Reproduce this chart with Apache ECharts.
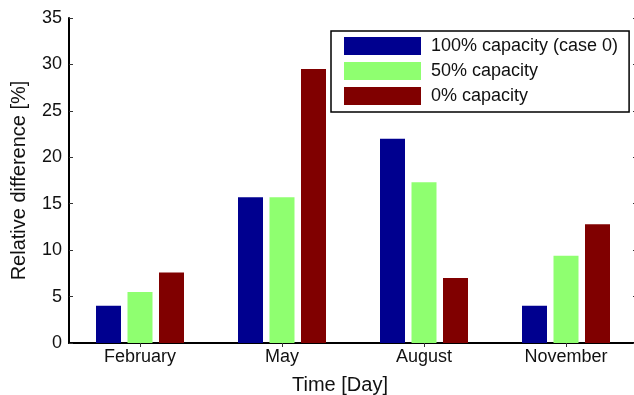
<!DOCTYPE html>
<html>
<head>
<meta charset="utf-8">
<script src="https://cdn.jsdelivr.net/npm/echarts@6/dist/echarts.min.js"></script>
<style>html,body{margin:0;padding:0;background:#fff;}#c{width:634px;height:395px;}</style>
</head>
<body>
<div id="c"></div>
<script>
const categories = ['February', 'May', 'August', 'November'];
const seriesNames = ['100% capacity (case 0)', '50% capacity', '0% capacity'];
const full = [4.0, 15.7, 22.0, 4.0];
const half = [5.5, 15.7, 17.3, 9.4];
const zero = [7.6, 29.5, 7.0, 12.8];
const yTicks = [0, 5, 10, 15, 20, 25, 30, 35];

const FONT = 'Liberation Sans, Arial, sans-serif';
const colors = ['#00008F', '#8FFF70', '#800000'];
const values = [full, half, zero];

const chart = echarts.init(document.getElementById('c'), null, {renderer: 'canvas'});
chart.setOption({
  animation: false,
  backgroundColor: '#fff',
  textStyle: {fontFamily: FONT},
  grid: {left: 69, top: 18, width: 568, height: 325, containLabel: false, outerBoundsMode: 'none'},
  legend: {
    orient: 'vertical',
    left: 331, top: 31,
    padding: [6, 11, 7, 13],
    itemWidth: 77, itemHeight: 18, itemGap: 7,
    borderColor: '#000', borderWidth: 1.5, backgroundColor: '#fff',
    icon: 'rect',
    textStyle: {fontFamily: FONT, fontSize: 18, color: '#111', lineHeight: 18, padding: [0, 0, 0, 5]},
    data: seriesNames
  },
  xAxis: [{
    type: 'category', data: categories, position: 'bottom',
    axisLine: {show: true, lineStyle: {color: '#000', width: 2}},
    axisTick: {show: true, inside: true, length: 4, alignWithLabel: true, lineStyle: {color: '#333', width: 1}},
    axisLabel: {fontFamily: FONT, fontSize: 18, color: '#111', margin: 5},
    name: 'Time [Day]', nameLocation: 'middle', nameGap: 32,
    nameTextStyle: {fontFamily: FONT, fontSize: 20, color: '#111', padding: [0, 26, 0, 0]}
  }, {
    type: 'category', data: categories, position: 'top',
    axisLine: {show: true, lineStyle: {color: '#000', width: 1.5}},
    axisTick: {show: true, inside: true, length: 4, alignWithLabel: true, lineStyle: {color: '#333', width: 1}},
    axisLabel: {show: false}
  }],
  yAxis: [{
    type: 'value', min: yTicks[0], max: yTicks[yTicks.length - 1], interval: 5, position: 'left',
    splitLine: {show: false},
    axisLine: {show: true, lineStyle: {color: '#000', width: 2}},
    axisTick: {show: true, inside: true, length: 4, lineStyle: {color: '#333', width: 1}},
    axisLabel: {fontFamily: FONT, fontSize: 18, color: '#111', margin: 7},
    name: 'Relative difference [%]', nameLocation: 'middle', nameGap: 40,
    nameTextStyle: {fontFamily: FONT, fontSize: 20, color: '#111'}
  }, {
    type: 'value', min: yTicks[0], max: yTicks[yTicks.length - 1], interval: 5, position: 'right',
    splitLine: {show: false},
    axisLine: {show: true, lineStyle: {color: '#000', width: 1.5}},
    axisTick: {show: true, inside: true, length: 4, lineStyle: {color: '#333', width: 1}},
    axisLabel: {show: false}
  }],
  series: seriesNames.map((n, i) => ({
    name: n, type: 'bar', data: values[i],
    xAxisIndex: 0, yAxisIndex: 0,
    barWidth: 25, barGap: '26%',
    itemStyle: {color: colors[i]},
    z: 3
  }))
});
</script>
</body>
</html>
